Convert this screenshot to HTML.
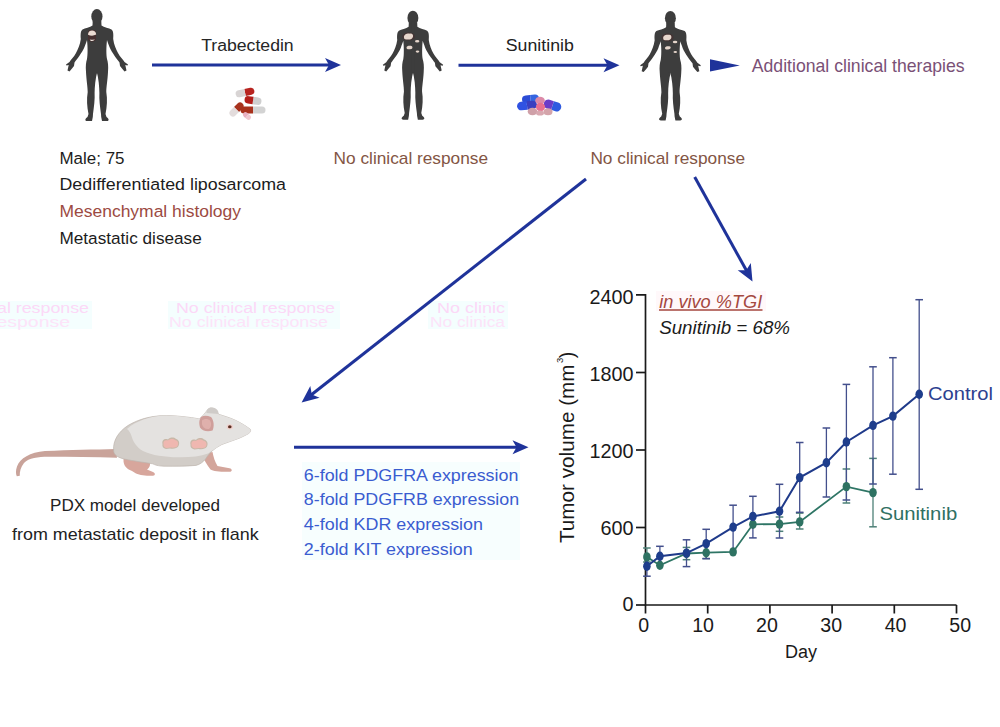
<!DOCTYPE html>
<html><head><meta charset="utf-8"><style>
html,body{margin:0;padding:0;background:#fff;width:1000px;height:727px;overflow:hidden}
svg{display:block}
text{font-family:"Liberation Sans", sans-serif}
</style></head><body>
<svg width="1000" height="727" viewBox="0 0 1000 727">
<rect width="1000" height="727" fill="#fff"/>
<g font-family="'Liberation Sans', sans-serif" opacity="1"><rect x="168" y="301" width="172" height="28" fill="#f4fefe"/><rect x="428" y="301" width="80" height="28" fill="#f4fefe"/><rect x="0" y="301" width="92" height="28" fill="#f4fefe"/><text x="176" y="313" font-size="15.5" fill="#fcd8f7" text-anchor="start" textLength="159" lengthAdjust="spacingAndGlyphs" >No clinical response</text>
<text x="169" y="326.5" font-size="15.5" fill="#fde3f9" text-anchor="start" textLength="159" lengthAdjust="spacingAndGlyphs" >No clinical response</text>
<text x="437" y="313" font-size="15.5" fill="#fcd8f7" text-anchor="start" textLength="68" lengthAdjust="spacingAndGlyphs" >No clinic</text>
<text x="430" y="326.5" font-size="15.5" fill="#fde3f9" text-anchor="start" textLength="75" lengthAdjust="spacingAndGlyphs" >No clinica</text>
<text x="-3" y="313" font-size="15.5" fill="#fcd8f7" text-anchor="start" textLength="92" lengthAdjust="spacingAndGlyphs" >al response</text>
<text x="-10" y="326.5" font-size="15.5" fill="#fde3f9" text-anchor="start" textLength="80" lengthAdjust="spacingAndGlyphs" >response</text>
</g>
<defs>
<g id="man">
<path d="M0.6,12 L-4.3,12 L-4.5,16.5 C-7,18.5 -12,19 -14.5,20.5 C-16.5,22 -16.5,26 -16.2,30 C-17,36 -19,40 -21,44 C-23,48 -26,50 -27.5,53 L-31,55.5 L-30.5,56.5 L-28.3,56 L-29.5,61.5 L-27.5,62.5 L-25,59.5 L-23,57 L-22.5,53.5 C-20,50 -15,44 -12.5,38 C-11.5,35 -10.5,33 -10,31 C-9.2,38 -9.2,46 -10,50 C-11,53 -11.5,57 -11,63 C-10.5,72 -9.3,78 -9.3,83 C-10.5,90 -10,98 -8.5,105 L-9.5,108 C-12.5,110 -12,112 -10,112 L-5,112 L-4.2,108 L-4,105 C-3,98 -2,90 -2.4,84 C-2.3,78 -1.8,70 0.6,61.5 Z" fill="#3d3d3d"/>
<path d="M0.6,12 L-4.3,12 L-4.5,16.5 C-7,18.5 -12,19 -14.5,20.5 C-16.5,22 -16.5,26 -16.2,30 C-17,36 -19,40 -21,44 C-23,48 -26,50 -27.5,53 L-31,55.5 L-30.5,56.5 L-28.3,56 L-29.5,61.5 L-27.5,62.5 L-25,59.5 L-23,57 L-22.5,53.5 C-20,50 -15,44 -12.5,38 C-11.5,35 -10.5,33 -10,31 C-9.2,38 -9.2,46 -10,50 C-11,53 -11.5,57 -11,63 C-10.5,72 -9.3,78 -9.3,83 C-10.5,90 -10,98 -8.5,105 L-9.5,108 C-12.5,110 -12,112 -10,112 L-5,112 L-4.2,108 L-4,105 C-3,98 -2,90 -2.4,84 C-2.3,78 -1.8,70 0.6,61.5 Z" fill="#3d3d3d" transform="scale(-1,1)"/>
<ellipse cx="-0.1" cy="7.4" rx="5.6" ry="7.4" fill="#3d3d3d"/><rect x="-2" y="11" width="4" height="52" fill="#3d3d3d"/>
</g>
</defs>
<use href="#man" transform="translate(97,9) scale(1.0)"/>
<g transform="translate(97,9)"><path d="M-9,23 C-9,20 -1,20 -1,23 L-1,30.5 C-3,33.5 -7,33.5 -9,30.5 Z" fill="#463030"/><path d="M-9,25.8 C-9.4,20.2 -0.8,20 -0.8,25.6 C-3.5,27 -6.2,27 -9,25.8 Z" fill="#eadcd3"/><path d="M-7.2,30.4 C-5.5,31 -4,31 -2.4,30.3 C-2.8,32.4 -6.6,32.6 -7.2,30.4 Z" fill="#f1e8e2"/></g>
<use href="#man" transform="translate(413,10.7) scale(0.9732142857142857)"/>
<g transform="translate(413,10.7)" fill="#e6d6cc"><ellipse cx="-4.4" cy="25.8" rx="6.4" ry="4" fill="#443434"/><path d="M-9,27 C-9.5,24 -6,22.5 -3,23 C-1,22.5 0.5,24 0,26 C-0.5,28.5 -3,29 -5.5,28.8 C-7.5,28.8 -9,28.5 -9,27 Z"/><ellipse cx="4.2" cy="30.6" rx="2.2" ry="1.2"/><path d="M-6.5,37 C-6.5,35 -3,34.5 -1,35.5 C0,36.5 -0.5,38.5 -3,38.6 C-5,38.8 -6.5,38.5 -6.5,37 Z"/><ellipse cx="4.5" cy="40.9" rx="1.8" ry="1.1"/></g>
<use href="#man" transform="translate(670.5,11) scale(0.9776785714285714)"/>
<g transform="translate(670.5,11)" fill="#e6d6cc"><ellipse cx="-3" cy="26.4" rx="6" ry="4" fill="#443434"/><path d="M-7.3,27.5 C-7.8,24.5 -4.5,23.2 -1.8,23.8 C0.3,23.4 1.3,25 0.8,27 C0.2,29 -2,29.4 -4.2,29.2 C-6,29.2 -7.3,29 -7.3,27.5 Z"/><ellipse cx="4.6" cy="31" rx="2.3" ry="1.2"/><path d="M-5.5,37 C-5.5,35.2 -2.5,34.8 -0.3,35.6 C0.8,36.5 0.2,38.4 -2.3,38.5 C-4.2,38.7 -5.5,38.4 -5.5,37 Z"/><ellipse cx="4.8" cy="40.9" rx="1.8" ry="1"/></g>
<line x1="152" y1="65" x2="332" y2="65" stroke="#1f339a" stroke-width="3"/><path d="M341,65 L325,58.0 L329,65 L325,72.0 Z" fill="#1f339a"/>
<line x1="458.5" y1="65.2" x2="610.5" y2="65.2" stroke="#1f339a" stroke-width="3"/><path d="M619.5,65.2 L603.5,58.2 L607.5,65.2 L603.5,72.2 Z" fill="#1f339a"/>
<path d="M739.8,65.4 L710,59.3 L710,71.6 Z" fill="#1f339a"/>
<line x1="294" y1="447.2" x2="519.5" y2="447.2" stroke="#1f339a" stroke-width="3"/><path d="M528.5,447.2 L512.5,440.2 L516.5,447.2 L512.5,454.2 Z" fill="#1f339a"/>
<line x1="586" y1="179" x2="309.5" y2="396.2" stroke="#1f339a" stroke-width="3"/><path d="M301.6,402.4 L310.3,386.0 L311.8,394.4 L319.6,397.8 Z" fill="#1f339a"/>
<line x1="694.7" y1="177" x2="747.7" y2="272.8" stroke="#1f339a" stroke-width="3"/><path d="M752.5,281.6 L737.7,270.3 L746.2,270.2 L750.8,263.1 Z" fill="#1f339a"/>
<g><g transform="translate(245,92.5) rotate(-12)"><path d="M0,-3.5 L6.0,-3.5 A3.5,3.5 0 0 1 6.0,3.5 L0,3.5 Z" fill="#b8231f"/><path d="M0,-3.5 L-6.0,-3.5 A3.5,3.5 0 0 0 -6.0,3.5 L0,3.5 Z" fill="#d8d4d4"/></g><g transform="translate(253,100.5) rotate(8)"><path d="M0,-3.75 L4.75,-3.75 A3.75,3.75 0 0 1 4.75,3.75 L0,3.75 Z" fill="#cfcfcf"/><path d="M0,-3.75 L-4.75,-3.75 A3.75,3.75 0 0 0 -4.75,3.75 L0,3.75 Z" fill="#b31e1a"/></g><g transform="translate(236.5,109.5) rotate(-45)"><path d="M0,-3.5 L5.0,-3.5 A3.5,3.5 0 0 1 5.0,3.5 L0,3.5 Z" fill="#a8331e"/><path d="M0,-3.5 L-5.0,-3.5 A3.5,3.5 0 0 0 -5.0,3.5 L0,3.5 Z" fill="#e3dcdc"/></g><g transform="translate(253,110) rotate(0)"><path d="M0,-3.5 L9.0,-3.5 A3.5,3.5 0 0 1 9.0,3.5 L0,3.5 Z" fill="#d3d3d3"/><path d="M0,-3.5 L-9.0,-3.5 A3.5,3.5 0 0 0 -9.0,3.5 L0,3.5 Z" fill="#a8311c"/></g><g transform="translate(247,116) rotate(40)"><path d="M0,-2.5 L2.0,-2.5 A2.5,2.5 0 0 1 2.0,2.5 L0,2.5 Z" fill="#f0c8d0"/><path d="M0,-2.5 L-2.0,-2.5 A2.5,2.5 0 0 0 -2.0,2.5 L0,2.5 Z" fill="#e8b0c0"/></g></g>
<g><g transform="translate(530.5,99) rotate(-6)"><path d="M0,-4.0 L4.5,-4.0 A4.0,4.0 0 0 1 4.5,4.0 L0,4.0 Z" fill="#3565e0"/><path d="M0,-4.0 L-4.5,-4.0 A4.0,4.0 0 0 0 -4.5,4.0 L0,4.0 Z" fill="#2b4cd6"/></g><g transform="translate(527,105.5) rotate(-6)"><path d="M0,-4.25 L5.75,-4.25 A4.25,4.25 0 0 1 5.75,4.25 L0,4.25 Z" fill="#3a3fc0"/><path d="M0,-4.25 L-5.75,-4.25 A4.25,4.25 0 0 0 -5.75,4.25 L0,4.25 Z" fill="#2f52e2"/></g><g transform="translate(552.5,105.5) rotate(18)"><path d="M0,-4.5 L4.5,-4.5 A4.5,4.5 0 0 1 4.5,4.5 L0,4.5 Z" fill="#2f5ae0"/><path d="M0,-4.5 L-4.5,-4.5 A4.5,4.5 0 0 0 -4.5,4.5 L0,4.5 Z" fill="#6b3cc8"/></g><ellipse cx="540" cy="100.5" rx="4.8" ry="3.8" fill="#dc8aa8"/><ellipse cx="532.5" cy="111.5" rx="4.8" ry="3.8" fill="#cfa0a8"/><ellipse cx="548" cy="111.8" rx="4.5" ry="3.5" fill="#d4a4aa"/><ellipse cx="540.5" cy="107" rx="4.6" ry="4.2" fill="#e8708f"/><ellipse cx="540" cy="113" rx="4" ry="2.6" fill="#d8a8b0"/></g>
<g><path d="M116,449 C95,449.5 70,450 45,451 C30,452 20,458.5 17,466.5 C15.5,471 15.8,474 16.8,476.2 L19.8,475.8 C19.6,472 20.6,467 24,463 C29,458 38,456.8 48,456.8 C70,456.8 95,457.2 117,457.8 Z" fill="#c9a39a"/><path d="M124,457 C122,464 126,469 132,471 L136,473.5 C140,475.5 148,476 153,475.8 C155.5,475.5 155.5,473 153,472 L147,469.5 C150,467.5 151,464 149,460 Z" fill="#d7a69c"/><path d="M201.5,454 C204,460 207,465 210.5,469.5 C213,471.5 222,472 229.5,471.8 C232.5,471.5 232.5,469 229.5,468.2 L217.5,466 C215,462 213.5,457 212.5,452 Z" fill="#d3a59b"/><path d="M113.6,450 C113,441 118,432 128,425.5 C138,419.5 150,416 164,415.6 C172,415.4 180,416.3 188,417.2 C193,417.8 196,418.3 199.2,419 C203,416.5 205,412.5 208.8,408.6 C212,407 216,409 218.4,414.2 C224,416 231,418 236,420.6 C241,423 246,426 250.4,429.4 C251,431 250,432.5 248.8,433.4 C246,435 243,436.5 239.2,438.2 C233,440.5 227,442.5 221.6,444.6 C218,446.5 215,448.5 212,451 C209,454 207,456.5 205.6,459 C203,462 200,464.5 196,465.4 C185,466.3 175,466.3 164,466.2 C158,466 155,465 152.8,463.8 C145,462.5 133,461 124,459 C120,458 117,456.5 115.5,455 C114.2,453.5 113.6,452 113.6,450 Z" fill="#d2cdc8" stroke="#bdb5ae" stroke-width="0.7"/><path d="M127,429 C136,421 150,416.5 164,415.6 C172,415.4 180,416.3 188,417.2 C193,417.8 196,418.3 199.2,419 C203,416.5 205,412.5 208.8,408.6 C212,407 216,409 218.4,414.2 C224,416 231,418 236,420.6 C241,423 246,426 250.4,429.4 C251,431 250,432.5 248.8,433.4 C246,435 243,436.5 239.2,438.2 C233,440.5 227,442.5 221.6,444.6 C217,447 213,450.5 208,453.5 C200,456.5 190,457.5 178,457.3 C165,457 152,455.5 143,451 C136,447 133,441 131.5,436 C130.5,433 129,430.5 127,429 Z" fill="#e4e2e0"/><path d="M206.5,413 C206,409.5 209,407 212.5,407.5 C216.5,408 219,411 218.5,414 Z" fill="#cfcbc8"/><path d="M200,419 C201,415.5 206,415 211,417 C214,420 214.5,427 212.5,430.5 C207,432.5 202,430.5 200,427.5 C199,424 199,421 200,419 Z" fill="#cf9e9a"/><path d="M202,420.5 C204,418.5 208,418.5 210,420.5 C212,423.5 211,427.5 209,429 C205,429.5 203,427.5 202,424.5 Z" fill="#dfb0ac"/><ellipse cx="229.8" cy="426.8" rx="3.2" ry="2.6" fill="#f0d0cc"/><ellipse cx="229.8" cy="426.8" rx="1.8" ry="1.5" fill="#5a2e22"/><path d="M162.5,444 C161.5,440 165,438 168,439.5 C170,437 174,437 176,439 C179,439.5 180,443 178.5,446 C177,448.5 174,449 170,448.5 L166,449 C163,448.5 162,446.5 162.5,444 Z" fill="#c8b8a8"/><path d="M163.5,444 C162.8,441 165.5,439.5 168,440.5 C170,438.5 173.5,438.5 175.5,440.3 C178,440.8 178.8,443.5 177.6,445.8 C176.4,447.6 173.8,448 170.5,447.6 L166.5,448 C164.2,447.6 163.2,446 163.5,444 Z" fill="#efb7b0"/><path d="M190.5,444.5 C189.5,440.5 193,438.5 196,440 C198,437.5 202,437.5 204,439.5 C207,440 208.5,443.5 207,446.5 C205.5,449 202.5,449.5 198.5,449 L194.5,449.5 C191.5,449 190,447 190.5,444.5 Z" fill="#c8b8a8"/><path d="M191.5,444.5 C190.8,441.5 193.5,440 196,441 C198,439 201.5,439 203.5,440.8 C206,441.3 207.3,444 206.1,446.3 C204.9,448.1 202.3,448.5 199,448.1 L195,448.5 C192.7,448.1 191.2,446.5 191.5,444.5 Z" fill="#efb7b0"/></g>
<g font-family="'Liberation Sans', sans-serif"><text x="201.2" y="51.4" font-size="17.3" fill="#262626" text-anchor="start" textLength="92.5" lengthAdjust="spacingAndGlyphs" >Trabectedin</text>
<text x="505.8" y="50.7" font-size="15.8" fill="#222" text-anchor="start" textLength="68" lengthAdjust="spacingAndGlyphs" >Sunitinib</text>
<text x="751.8" y="71.6" font-size="17.8" fill="#7a5076" text-anchor="start" textLength="212.8" lengthAdjust="spacingAndGlyphs" >Additional clinical therapies</text>
<text x="59.5" y="164.25" font-size="16.8" fill="#1c1c1c" text-anchor="start" textLength="65" lengthAdjust="spacingAndGlyphs" >Male; 75</text>
<text x="59.5" y="189.7" font-size="16.8" fill="#1c1c1c" text-anchor="start" textLength="226.5" lengthAdjust="spacingAndGlyphs" >Dedifferentiated liposarcoma</text>
<text x="59.5" y="217" font-size="16.8" fill="#9c4a42" text-anchor="start" textLength="181.5" lengthAdjust="spacingAndGlyphs" >Mesenchymal histology</text>
<text x="59.5" y="243.6" font-size="16.8" fill="#1c1c1c" text-anchor="start" textLength="142.2" lengthAdjust="spacingAndGlyphs" >Metastatic disease</text>
<text x="333.6" y="164" font-size="16.6" fill="#835544" text-anchor="start" textLength="154.4" lengthAdjust="spacingAndGlyphs" >No clinical response</text>
<text x="590.4" y="164" font-size="16.6" fill="#835544" text-anchor="start" textLength="154.6" lengthAdjust="spacingAndGlyphs" >No clinical response</text>
<text x="50" y="511.1" font-size="16.6" fill="#222" text-anchor="start" textLength="170" lengthAdjust="spacingAndGlyphs" >PDX model developed</text>
<text x="12.1" y="540" font-size="16.6" fill="#222" text-anchor="start" textLength="246.5" lengthAdjust="spacingAndGlyphs" >from metastatic deposit in flank</text>
<rect x="302" y="462" width="218" height="98" fill="#f7fefe"/><text x="303.8" y="480.5" font-size="16.6" fill="#3a5cd0" text-anchor="start" textLength="214.6" lengthAdjust="spacingAndGlyphs" >6-fold PDGFRA expression</text>
<text x="303.8" y="505.2" font-size="16.6" fill="#3a5cd0" text-anchor="start" textLength="215.4" lengthAdjust="spacingAndGlyphs" >8-fold PDGFRB expression</text>
<text x="303.8" y="529.9" font-size="16.6" fill="#3a5cd0" text-anchor="start" textLength="179.2" lengthAdjust="spacingAndGlyphs" >4-fold KDR expression</text>
<text x="303.8" y="554.6" font-size="16.6" fill="#3a5cd0" text-anchor="start" textLength="168.8" lengthAdjust="spacingAndGlyphs" >2-fold KIT expression</text>
</g>
<g stroke="#1a1a1a" stroke-width="1.7" fill="none"><path d="M636,294.8 H645.5 V605 H956.5"/><line x1="636" y1="527.5" x2="645.5" y2="527.5"/><line x1="636" y1="450.0" x2="645.5" y2="450.0"/><line x1="636" y1="372.5" x2="645.5" y2="372.5"/><line x1="636" y1="605" x2="645.5" y2="605"/><line x1="645.5" y1="605" x2="645.5" y2="613.5"/><line x1="707.7" y1="605" x2="707.7" y2="613.5"/><line x1="769.9" y1="605" x2="769.9" y2="613.5"/><line x1="832.1" y1="605" x2="832.1" y2="613.5"/><line x1="894.3" y1="605" x2="894.3" y2="613.5"/><line x1="956.5" y1="605" x2="956.5" y2="613.5"/></g>
<g font-family="'Liberation Sans', sans-serif" fill="#1a1a1a" font-size="19"><text x="633.4" y="610.9" text-anchor="end" font-size="19.8">0</text><text x="633.4" y="534.7" text-anchor="end" font-size="19.8">600</text><text x="633.4" y="458" text-anchor="end" font-size="19.8">1200</text><text x="633.4" y="380.8" text-anchor="end" font-size="19.8">1800</text><text x="633.4" y="304" text-anchor="end" font-size="19.8">2400</text><text x="643.7" y="632.3" text-anchor="middle" font-size="19.6">0</text><text x="703.1" y="632.3" text-anchor="middle" font-size="19.6">10</text><text x="766.9" y="632.3" text-anchor="middle" font-size="19.6">20</text><text x="831.2" y="632.3" text-anchor="middle" font-size="19.6">30</text><text x="895.6" y="632.3" text-anchor="middle" font-size="19.6">40</text><text x="960.2" y="632.3" text-anchor="middle" font-size="19.6">50</text><text x="801" y="657.6" text-anchor="middle" font-size="18">Day</text><text transform="translate(574.2,543) rotate(-90)" font-size="19.5" textLength="178.5" lengthAdjust="spacingAndGlyphs">Tumor volume (mm</text><text transform="translate(574.2,358.3) rotate(-90)" font-size="19.5">)</text><text transform="translate(563.2,363) rotate(-90)" font-size="9.5">3</text></g>
<line x1="646.9" y1="548" x2="646.9" y2="562" stroke="#4d8077" stroke-width="1.3"/><line x1="643.1" y1="548" x2="650.6999999999999" y2="548" stroke="#4d8077" stroke-width="1.5"/><line x1="643.1" y1="562" x2="650.6999999999999" y2="562" stroke="#4d8077" stroke-width="1.5"/><line x1="686.5" y1="547.4" x2="686.5" y2="559.7" stroke="#4d8077" stroke-width="1.3"/><line x1="682.7" y1="547.4" x2="690.3" y2="547.4" stroke="#4d8077" stroke-width="1.5"/><line x1="682.7" y1="559.7" x2="690.3" y2="559.7" stroke="#4d8077" stroke-width="1.5"/><line x1="706.2" y1="547" x2="706.2" y2="558.5" stroke="#4d8077" stroke-width="1.3"/><line x1="702.4000000000001" y1="558.5" x2="710.0" y2="558.5" stroke="#4d8077" stroke-width="1.5"/><line x1="779.5" y1="517" x2="779.5" y2="531.3" stroke="#4d8077" stroke-width="1.3"/><line x1="775.7" y1="517" x2="783.3" y2="517" stroke="#4d8077" stroke-width="1.5"/><line x1="775.7" y1="531.3" x2="783.3" y2="531.3" stroke="#4d8077" stroke-width="1.5"/><line x1="799.7" y1="513.1" x2="799.7" y2="529" stroke="#4d8077" stroke-width="1.3"/><line x1="795.9000000000001" y1="513.1" x2="803.5" y2="513.1" stroke="#4d8077" stroke-width="1.5"/><line x1="795.9000000000001" y1="529" x2="803.5" y2="529" stroke="#4d8077" stroke-width="1.5"/><line x1="846.4" y1="469" x2="846.4" y2="503" stroke="#4d8077" stroke-width="1.3"/><line x1="842.6" y1="469" x2="850.1999999999999" y2="469" stroke="#4d8077" stroke-width="1.5"/><line x1="842.6" y1="503" x2="850.1999999999999" y2="503" stroke="#4d8077" stroke-width="1.5"/><line x1="873" y1="458.4" x2="873" y2="526.8" stroke="#4d8077" stroke-width="1.3"/><line x1="869.2" y1="458.4" x2="876.8" y2="458.4" stroke="#4d8077" stroke-width="1.5"/><line x1="869.2" y1="526.8" x2="876.8" y2="526.8" stroke="#4d8077" stroke-width="1.5"/>
<line x1="646.9" y1="557" x2="646.9" y2="576.2" stroke="#434f8c" stroke-width="1.3"/><line x1="643.1" y1="576.2" x2="650.6999999999999" y2="576.2" stroke="#434f8c" stroke-width="1.5"/><line x1="659.9" y1="546.3" x2="659.9" y2="566.3" stroke="#434f8c" stroke-width="1.3"/><line x1="656.1" y1="546.3" x2="663.6999999999999" y2="546.3" stroke="#434f8c" stroke-width="1.5"/><line x1="686.5" y1="539.8" x2="686.5" y2="566.6" stroke="#434f8c" stroke-width="1.3"/><line x1="682.7" y1="539.8" x2="690.3" y2="539.8" stroke="#434f8c" stroke-width="1.5"/><line x1="682.7" y1="566.6" x2="690.3" y2="566.6" stroke="#434f8c" stroke-width="1.5"/><line x1="706.2" y1="529.3" x2="706.2" y2="558.7" stroke="#434f8c" stroke-width="1.3"/><line x1="702.4000000000001" y1="529.3" x2="710.0" y2="529.3" stroke="#434f8c" stroke-width="1.5"/><line x1="702.4000000000001" y1="558.7" x2="710.0" y2="558.7" stroke="#434f8c" stroke-width="1.5"/><line x1="733.1" y1="505.2" x2="733.1" y2="551" stroke="#434f8c" stroke-width="1.3"/><line x1="729.3000000000001" y1="505.2" x2="736.9" y2="505.2" stroke="#434f8c" stroke-width="1.5"/><line x1="752.9" y1="496.3" x2="752.9" y2="537.9" stroke="#434f8c" stroke-width="1.3"/><line x1="749.1" y1="496.3" x2="756.6999999999999" y2="496.3" stroke="#434f8c" stroke-width="1.5"/><line x1="749.1" y1="537.9" x2="756.6999999999999" y2="537.9" stroke="#434f8c" stroke-width="1.5"/><line x1="779.5" y1="484.3" x2="779.5" y2="538" stroke="#434f8c" stroke-width="1.3"/><line x1="775.7" y1="484.3" x2="783.3" y2="484.3" stroke="#434f8c" stroke-width="1.5"/><line x1="775.7" y1="538" x2="783.3" y2="538" stroke="#434f8c" stroke-width="1.5"/><line x1="799.7" y1="442.5" x2="799.7" y2="512.3" stroke="#434f8c" stroke-width="1.3"/><line x1="795.9000000000001" y1="442.5" x2="803.5" y2="442.5" stroke="#434f8c" stroke-width="1.5"/><line x1="795.9000000000001" y1="512.3" x2="803.5" y2="512.3" stroke="#434f8c" stroke-width="1.5"/><line x1="826.4" y1="428" x2="826.4" y2="497" stroke="#434f8c" stroke-width="1.3"/><line x1="822.6" y1="428" x2="830.1999999999999" y2="428" stroke="#434f8c" stroke-width="1.5"/><line x1="822.6" y1="497" x2="830.1999999999999" y2="497" stroke="#434f8c" stroke-width="1.5"/><line x1="846.4" y1="384.4" x2="846.4" y2="500" stroke="#434f8c" stroke-width="1.3"/><line x1="842.6" y1="384.4" x2="850.1999999999999" y2="384.4" stroke="#434f8c" stroke-width="1.5"/><line x1="842.6" y1="500" x2="850.1999999999999" y2="500" stroke="#434f8c" stroke-width="1.5"/><line x1="873" y1="366.8" x2="873" y2="484" stroke="#434f8c" stroke-width="1.3"/><line x1="869.2" y1="366.8" x2="876.8" y2="366.8" stroke="#434f8c" stroke-width="1.5"/><line x1="869.2" y1="484" x2="876.8" y2="484" stroke="#434f8c" stroke-width="1.5"/><line x1="892.9" y1="357.7" x2="892.9" y2="474.2" stroke="#434f8c" stroke-width="1.3"/><line x1="889.1" y1="357.7" x2="896.6999999999999" y2="357.7" stroke="#434f8c" stroke-width="1.5"/><line x1="889.1" y1="474.2" x2="896.6999999999999" y2="474.2" stroke="#434f8c" stroke-width="1.5"/><line x1="919.2" y1="299.7" x2="919.2" y2="489.3" stroke="#434f8c" stroke-width="1.3"/><line x1="915.4000000000001" y1="299.7" x2="923.0" y2="299.7" stroke="#434f8c" stroke-width="1.5"/><line x1="915.4000000000001" y1="489.3" x2="923.0" y2="489.3" stroke="#434f8c" stroke-width="1.5"/>
<path d="M646.9,556.9 L659.9,565.3 L686.5,553.5 L706.2,552.7 L733.1,551.9 L752.9,524.3 L779.5,524.1 L799.7,521.9 L846.4,486.6 L873,492.6" stroke="#2e7565" stroke-width="1.8" fill="none"/><ellipse cx="646.9" cy="556.9" rx="3.8" ry="4.7" fill="#2e7262"/><ellipse cx="659.9" cy="565.3" rx="3.8" ry="4.7" fill="#2e7262"/><ellipse cx="686.5" cy="553.5" rx="3.8" ry="4.7" fill="#2e7262"/><ellipse cx="706.2" cy="552.7" rx="3.8" ry="4.7" fill="#2e7262"/><ellipse cx="733.1" cy="551.9" rx="3.8" ry="4.7" fill="#2e7262"/><ellipse cx="752.9" cy="524.3" rx="3.8" ry="4.7" fill="#2e7262"/><ellipse cx="779.5" cy="524.1" rx="3.8" ry="4.7" fill="#2e7262"/><ellipse cx="799.7" cy="521.9" rx="3.8" ry="4.7" fill="#2e7262"/><ellipse cx="846.4" cy="486.6" rx="3.8" ry="4.7" fill="#2e7262"/><ellipse cx="873" cy="492.6" rx="3.8" ry="4.7" fill="#2e7262"/>
<path d="M646.9,566.2 L659.9,556.3 L686.5,553.1 L706.2,543.6 L733.1,527.1 L752.9,516.4 L779.5,511.3 L799.7,477.6 L826.4,462.7 L846.4,442 L873,425.4 L892.9,416.1 L919.2,394.3" stroke="#1f3a8a" stroke-width="2.0" fill="none"/><ellipse cx="646.9" cy="566.2" rx="3.8" ry="4.7" fill="#1e3d8c"/><ellipse cx="659.9" cy="556.3" rx="3.8" ry="4.7" fill="#1e3d8c"/><ellipse cx="686.5" cy="553.1" rx="3.8" ry="4.7" fill="#1e3d8c"/><ellipse cx="706.2" cy="543.6" rx="3.8" ry="4.7" fill="#1e3d8c"/><ellipse cx="733.1" cy="527.1" rx="3.8" ry="4.7" fill="#1e3d8c"/><ellipse cx="752.9" cy="516.4" rx="3.8" ry="4.7" fill="#1e3d8c"/><ellipse cx="779.5" cy="511.3" rx="3.8" ry="4.7" fill="#1e3d8c"/><ellipse cx="799.7" cy="477.6" rx="3.8" ry="4.7" fill="#1e3d8c"/><ellipse cx="826.4" cy="462.7" rx="3.8" ry="4.7" fill="#1e3d8c"/><ellipse cx="846.4" cy="442" rx="3.8" ry="4.7" fill="#1e3d8c"/><ellipse cx="873" cy="425.4" rx="3.8" ry="4.7" fill="#1e3d8c"/><ellipse cx="892.9" cy="416.1" rx="3.8" ry="4.7" fill="#1e3d8c"/><ellipse cx="919.2" cy="394.3" rx="3.8" ry="4.7" fill="#1e3d8c"/>
<text x="928" y="400.2" font-size="19" fill="#2d4190" text-anchor="start" textLength="65" lengthAdjust="spacingAndGlyphs" >Control</text>
<text x="879.4" y="519.5" font-size="19" fill="#2f7063" text-anchor="start" textLength="77.8" lengthAdjust="spacingAndGlyphs" >Sunitinib</text>
<g font-family="'Liberation Sans', sans-serif" font-style="italic"><rect x="656" y="291" width="110" height="20" fill="#fff8fa"/><text x="659.2" y="307.5" font-size="18.5" fill="#a5483f" text-anchor="start" textLength="103" lengthAdjust="spacingAndGlyphs" >in vivo %TGI</text>
<line x1="659" y1="310" x2="762.5" y2="310" stroke="#a5483f" stroke-width="1.3"/><text x="659.2" y="334" font-size="18.5" fill="#1a1a1a" text-anchor="start" textLength="130.8" lengthAdjust="spacingAndGlyphs" >Sunitinib = 68%</text>
</g>
</svg>
</body></html>
